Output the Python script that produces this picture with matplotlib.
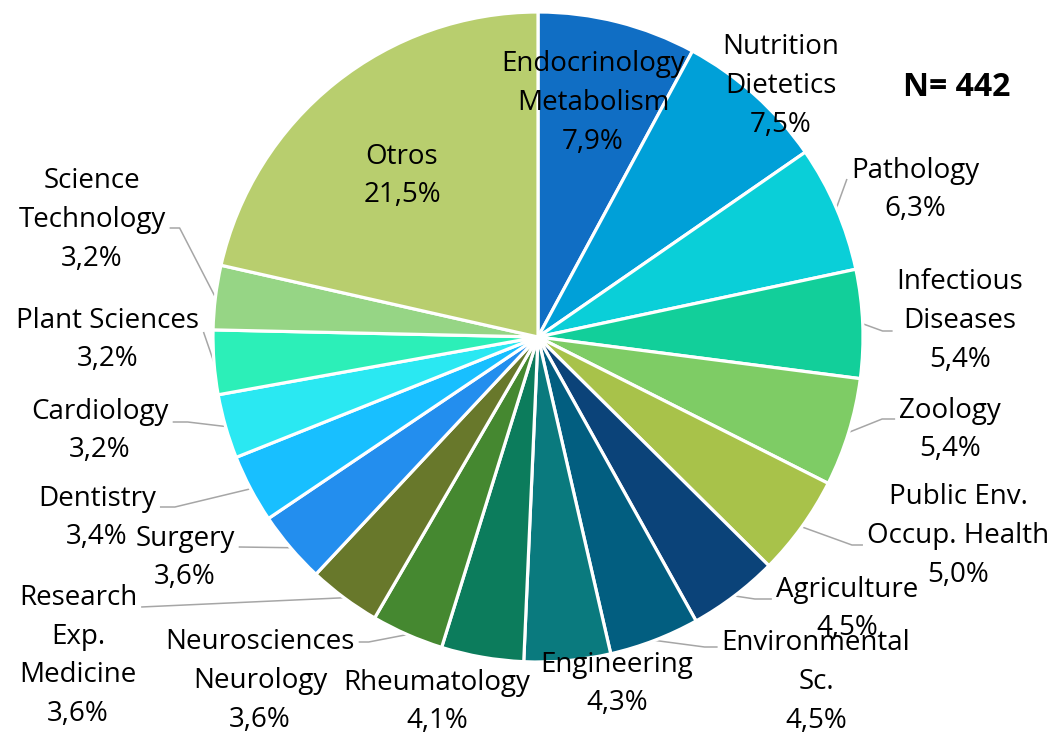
import matplotlib
matplotlib.use("Agg")
import matplotlib.pyplot as plt
import numpy as np

# ---------------- data ----------------
categories = [
    "Endocrinology\nMetabolism", "Nutrition\nDietetics", "Pathology",
    "Infectious\nDiseases", "Zoology", "Public Env.\nOccup. Health",
    "Agriculture", "Environmental\nSc.", "Engineering", "Rheumatology",
    "Neurosciences\nNeurology", "Research\nExp.\nMedicine", "Surgery",
    "Dentistry", "Cardiology", "Plant Sciences", "Science\nTechnology",
    "Otros",
]
values = [7.9, 7.5, 6.3, 5.4, 5.4, 5.0, 4.5, 4.5, 4.3, 4.1,
          3.6, 3.6, 3.6, 3.4, 3.2, 3.2, 3.2, 21.5]
colors = ["#106EC4", "#00A0D8", "#0ACFD8", "#12CF9A", "#7ECC65", "#A8C24A",
          "#0B4379", "#025E80", "#0A7A7E", "#0C7C5C", "#458830", "#68782B",
          "#238EEE", "#18BFFF", "#2AE8F2", "#2CEFB8", "#96D585", "#B8CE6E"]
n_total = 442

# ---------------- layout (pixels, origin top-left) ----------------
W, H = 1056, 734
center_px = (538, 337)
radius_px = 325
label_pos = [
    (593, 103), (781, 86), (915, 190), (960, 321), (950, 430), (958, 536),
    (847, 609), (816, 682), (617, 684), (437, 702), (260, 681), (78, 656),
    (185, 558), (97, 518), (100, 431), (108, 340), (92, 220), (402, 176),
]
# leader: (side of text to attach, y offset from block centre, elbow length)
leaders = {
    2: ("left", -11, 0), 3: ("left", 10, 10), 4: ("left", -11, 13),
    5: ("left", 9, 11), 6: ("left", -10, 17), 7: ("left", -35, 13),
    10: ("right", -39, 10), 11: ("right", -49, 0), 12: ("right", -11, 0),
    13: ("right", -11, 15), 14: ("right", -9, 15), 15: ("right", -8, 0),
    16: ("right", 8, 10),
}

plt.rcParams['font.family'] = ['Open Sans', 'DejaVu Sans']
FS = 20

fig = plt.figure(figsize=(W / 100, H / 100), dpi=100)
ax = fig.add_axes([0, 0, 1, 1])

def py(y):
    return H - y

wedges, _ = ax.pie(values, colors=colors, startangle=90, counterclock=False,
                   center=(center_px[0], py(center_px[1])), radius=radius_px,
                   wedgeprops=dict(edgecolor="white", linewidth=2.3))
ax.set_xlim(0, W)
ax.set_ylim(0, H)
ax.set_aspect("equal")
ax.axis("off")

texts = []
for cat, v, (lx, ly) in zip(categories, values, label_pos):
    lab = cat + "\n" + f"{v:.1f}".replace(".", ",") + "%"
    t = ax.text(lx, py(ly), lab, ha="center", va="center", fontsize=FS,
                color="black", multialignment="center", linespacing=1.52)
    texts.append(t)

ax.text(957, py(88), f"N= {n_total}", ha="center", va="center",
        fontsize=23, fontweight="bold", color="black")

fig.canvas.draw()
renderer = fig.canvas.get_renderer()
inv = ax.transData.inverted()
for i, (side, dy, elbow) in leaders.items():
    w = wedges[i]
    mid = np.deg2rad((w.theta1 + w.theta2) / 2)
    cx, cy = w.center
    r = w.r
    sx, sy = cx + r * np.cos(mid), cy + r * np.sin(mid)
    bb = texts[i].get_window_extent(renderer)
    (x0, y0), (x1, y1) = inv.transform([(bb.x0, bb.y0), (bb.x1, bb.y1)])
    ey = py(label_pos[i][1] + dy)
    if side == "left":
        ex = x0 - 4
        elx = ex - elbow
    else:
        ex = x1 + 4
        elx = ex + elbow
    ax.plot([sx, elx, ex], [sy, ey, ey], color="#A6A6A6", lw=1.1,
            solid_capstyle="butt", zorder=0.5)

fig.savefig("out.png", dpi=100)
